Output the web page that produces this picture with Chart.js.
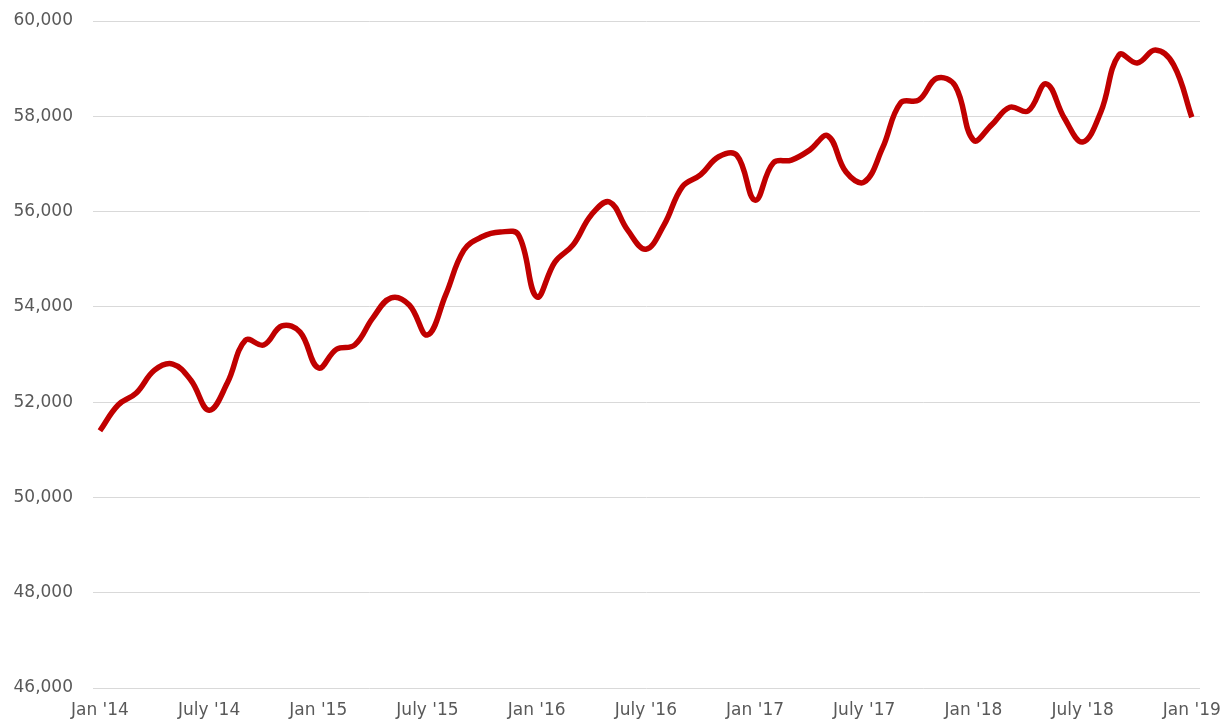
<!DOCTYPE html>
<html>
<head>
<meta charset="utf-8">
<script src="https://cdn.jsdelivr.net/npm/chart.js@4/dist/chart.umd.min.js"></script>
<style>
  html, body { margin: 0; padding: 0; background: #fff; }
  #chart { display: block; }
</style>
</head>
<body>
<canvas id="chart" width="1230" height="719"></canvas>
<script>
// monthly values, Jan 2014 .. Jan 2019
const values = [
    51400, 51940, 52190, 52670, 52800, 52460, 51830, 52400, 53300, 53200, 53600, 53470,
    52720, 53110, 53200, 53770, 54190, 54040, 53410, 54250, 55190, 55470, 55570, 55510,
    54210, 54940, 55300, 55930, 56200, 55610, 55210, 55720, 56520, 56770, 57150, 57180,
    56240, 57020, 57080, 57290, 57590, 56830, 56620, 57330, 58280, 58340, 58800, 58640,
    57500, 57820, 58190, 58110, 58680, 57960, 57460, 58090, 59290, 59120, 59390, 59080,
    57980
];

const tickLabels = ["Jan '14", "July '14", "Jan '15", "July '15", "Jan '16", "July '16",
                    "Jan '17", "July '17", "Jan '18", "July '18", "Jan '19"];
const tickMonths = [0, 6, 12, 18, 24, 30, 36, 42, 48, 54, 60];

const yMin = 46000, yMax = 60000, yStep = 2000;

const textColor = '#595959';
const fontFamily = "'DejaVu Sans', sans-serif";

const points = values.map((v, i) => ({ x: i, y: v }));

const ctx = document.getElementById('chart').getContext('2d');

const chart = new Chart(ctx, {
    type: 'line',
    data: {
        datasets: [{
            data: points,
            borderColor: '#C00000',
            borderWidth: 5.5,
            pointRadius: 0,
            tension: 0.4,
            fill: false
        }]
    },
    options: {
        responsive: false,
        animation: false,
        plugins: {
            legend: { display: false },
            tooltip: { enabled: false }
        },
        layout: {
            autoPadding: false,
            padding: { top: 21, right: 30, left: 0, bottom: 0 }
        },
        scales: {
            x: {
                type: 'linear',
                min: -0.38,
                max: 60.45,
                grid: { display: false },
                border: { display: false },
                afterBuildTicks: s => { s.ticks = tickMonths.map(v => ({ value: v })); },
                afterFit: s => { s.height = 31; s.paddingLeft = 0; s.paddingRight = 0; },
                ticks: {
                    autoSkip: false,
                    maxRotation: 0,
                    padding: 4,
                    color: textColor,
                    font: { family: fontFamily, size: 17 },
                    callback: v => tickLabels[tickMonths.indexOf(v)]
                }
            },
            y: {
                min: yMin,
                max: yMax,
                grid: { color: '#d9d9d9', lineWidth: 1, drawTicks: false },
                border: { display: false },
                afterFit: s => { s.width = 93; s.paddingTop = 0; s.paddingBottom = 0; },
                ticks: {
                    stepSize: yStep,
                    padding: 20,
                    color: textColor,
                    font: { family: fontFamily, size: 17 },
                    callback: v => v.toLocaleString('en-US')
                }
            }
        }
    }
});
</script>
</body>
</html>
